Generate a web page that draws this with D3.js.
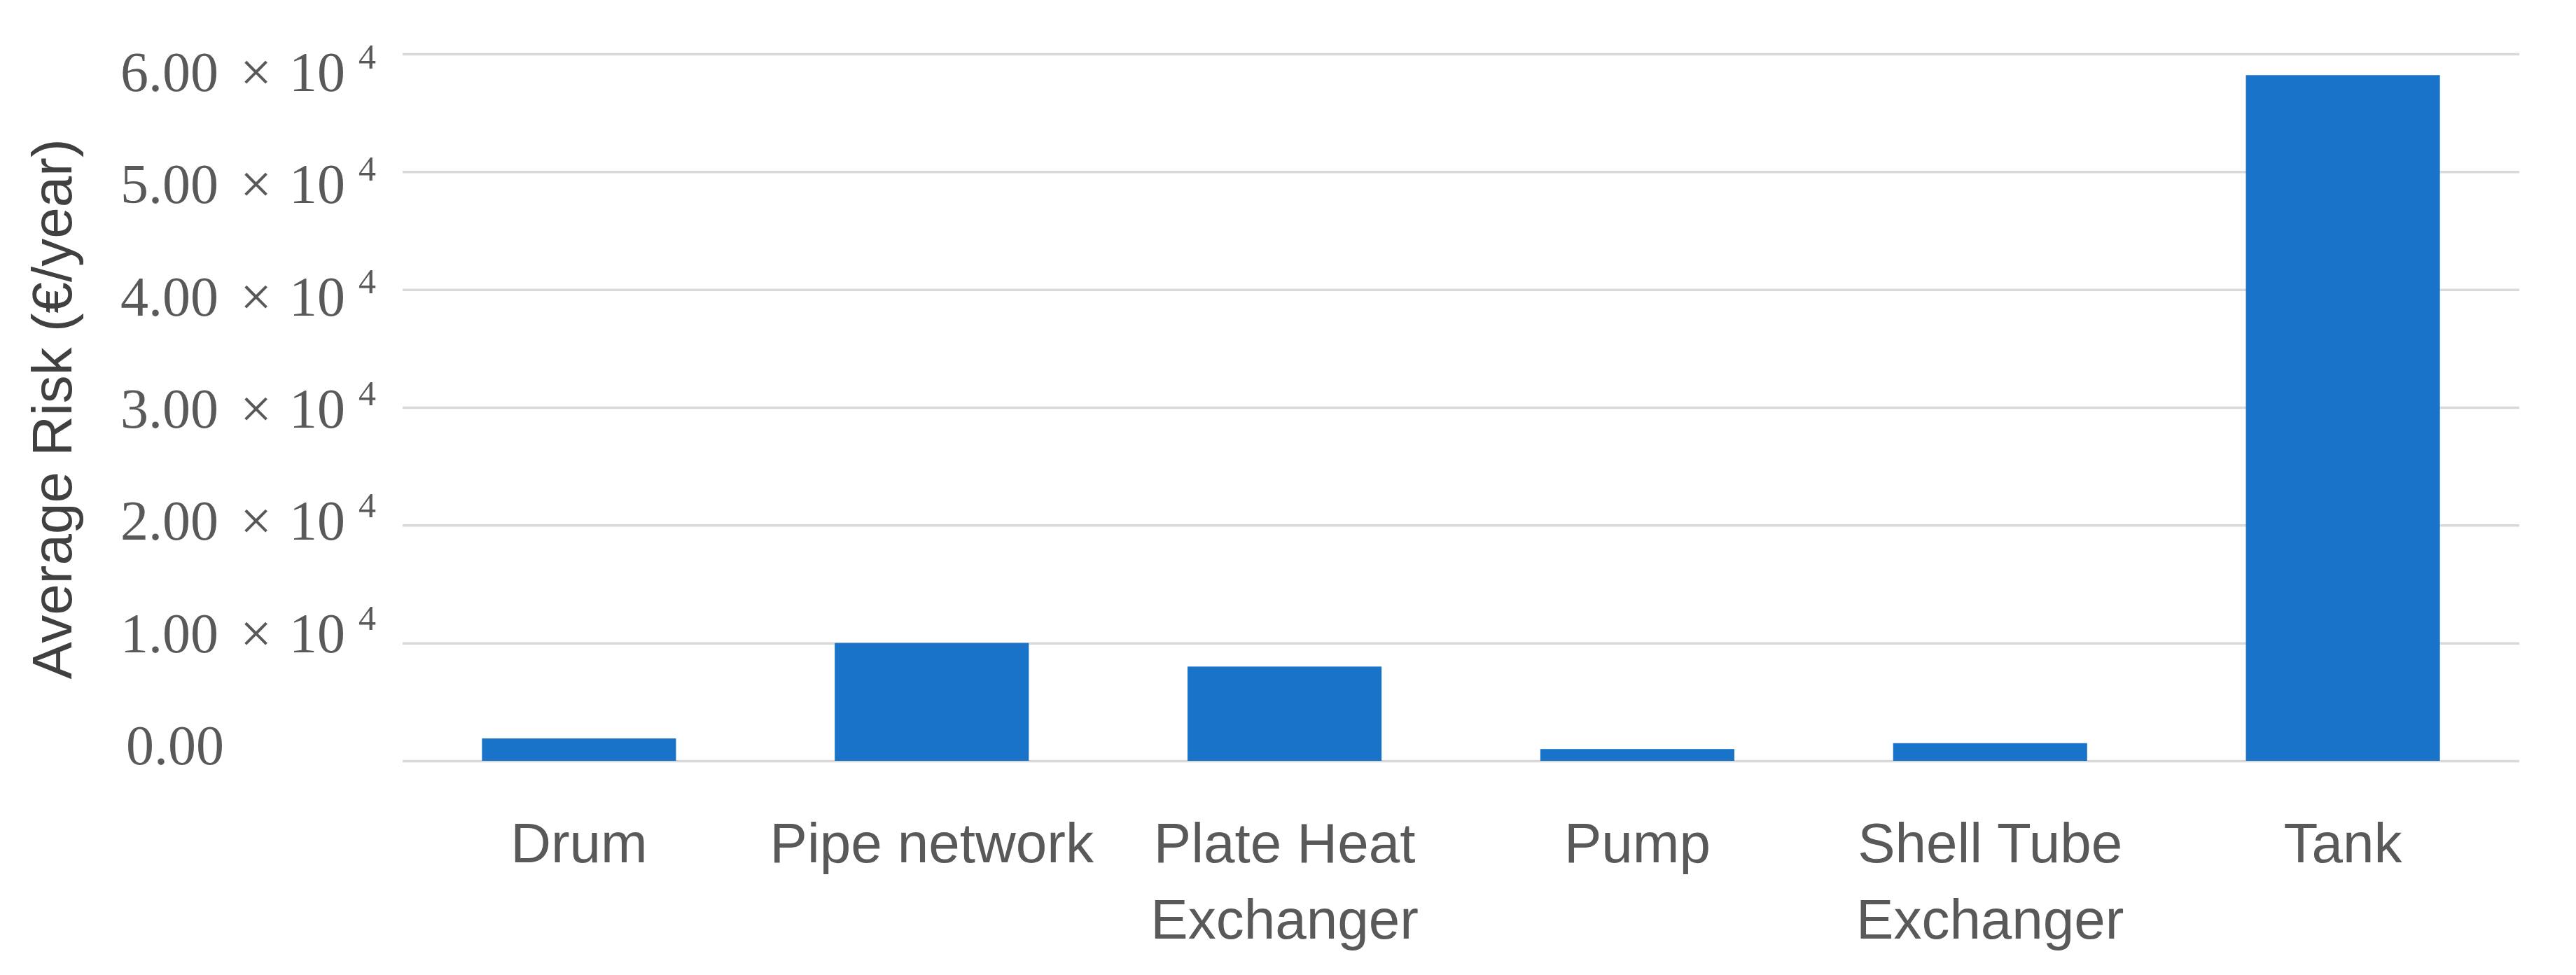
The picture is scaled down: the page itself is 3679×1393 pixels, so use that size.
<!DOCTYPE html>
<html>
<head>
<meta charset="utf-8">
<script src="https://cdn.jsdelivr.net/npm/d3@7"></script>
<style>
  html, body { margin: 0; padding: 0; background: #ffffff; }
  svg { display: block; }
</style>
</head>
<body>
<div id="chart"></div>
<script>
// ---- data ----
const categories = ["Drum", "Pipe network", "Plate Heat Exchanger", "Pump", "Shell Tube Exchanger", "Tank"];
const riskValues = [1900, 10000, 8000, 1000, 1500, 58200];
const yTickValues = [0, 10000, 20000, 30000, 40000, 50000, 60000];
const yTickMantissas = ["0.00", "1.00", "2.00", "3.00", "4.00", "5.00", "6.00"];
const yTickExponent = "4";
const yAxisTitle = "Average Risk (€/year)";

// ---- layout ----
const W = 3679, H = 1393;
const plot = { left: 575, right: 3598, top: 77, bottom: 1087 };

const svg = d3.select("#chart").append("svg")
  .attr("width", W).attr("height", H)
  .attr("viewBox", `0 0 ${W} ${H}`);

svg.append("rect").attr("width", W).attr("height", H).attr("fill", "#ffffff");

const x = d3.scaleBand()
  .domain(categories)
  .range([plot.left, plot.right])
  .paddingInner(0.45)
  .paddingOuter(0.225);

const y = d3.scaleLinear()
  .domain([0, 60000])
  .range([plot.bottom, plot.top]);

// tick labels in the original are placed on a slightly tighter spacing than the gridlines
const yLabelScale = d3.scaleLinear()
  .domain([0, 60000])
  .range([1066, 104]);

// gridlines via axis
const grid = svg.append("g")
  .attr("transform", `translate(${plot.left},0)`)
  .call(d3.axisLeft(y).tickValues(yTickValues).tickSize(-(plot.right - plot.left)).tickFormat(""));
grid.select(".domain").remove();
grid.selectAll(".tick line").attr("stroke", "#d9d9d9").attr("stroke-width", 3.5);

// bars
svg.append("g").selectAll("rect")
  .data(categories)
  .join("rect")
  .attr("x", d => x(d))
  .attr("width", x.bandwidth())
  .attr("y", (d, i) => y(riskValues[i]))
  .attr("height", (d, i) => y(0) - y(riskValues[i]))
  .attr("fill", "#1873c9");

// y tick labels (math style)
const serif = "'Liberation Serif', 'Times New Roman', serif";
const yLabels = svg.append("g").attr("fill", "#595959").attr("font-family", serif);
yTickValues.forEach((v, i) => {
  const base = yLabelScale(v) + 26;
  if (v === 0) {
    yLabels.append("text")
      .attr("x", 180).attr("y", base)
      .attr("font-size", 80)
      .text(yTickMantissas[i]);
  } else {
    const t = yLabels.append("text").attr("y", base).attr("font-size", 80);
    t.append("tspan").attr("x", 172).text(yTickMantissas[i]);
    t.append("tspan").attr("x", 343).text("×");
    t.append("tspan").attr("x", 413).text("10");
    t.append("tspan").attr("x", 512).attr("y", base - 32).attr("font-size", 50).text(yTickExponent);
  }
});

// x axis labels with wrapping
const sans = "'Liberation Sans', Arial, sans-serif";
const xAxis = svg.append("g")
  .attr("transform", `translate(0,${plot.bottom})`)
  .call(d3.axisBottom(x).tickSize(0).tickPadding(0));
xAxis.select(".domain").remove();
xAxis.selectAll(".tick text")
  .attr("font-family", sans)
  .attr("font-size", 80)
  .attr("fill", "#595959")
  .attr("dy", null)
  .attr("y", 145)
  .each(function(d) {
    const el = d3.select(this);
    const words = d.split(/\s+/);
    el.text(null);
    const maxW = x.step() * 0.96;
    let line = [];
    let lineNo = 0;
    let tspan = el.append("tspan").attr("x", 0).attr("y", 145);
    words.forEach(w => {
      line.push(w);
      tspan.text(line.join(" "));
      if (tspan.node().getComputedTextLength() > maxW && line.length > 1) {
        line.pop();
        tspan.text(line.join(" "));
        line = [w];
        lineNo++;
        tspan = el.append("tspan").attr("x", 0).attr("y", 145 + lineNo * 109).text(w);
      }
    });
  });

// y axis title
svg.append("text")
  .attr("transform", `translate(102,${(197 + 972) / 2}) rotate(-90)`)
  .attr("text-anchor", "middle")
  .attr("font-family", sans)
  .attr("font-size", 80)
  .attr("fill", "#404040")
  .text(yAxisTitle);
</script>
</body>
</html>
